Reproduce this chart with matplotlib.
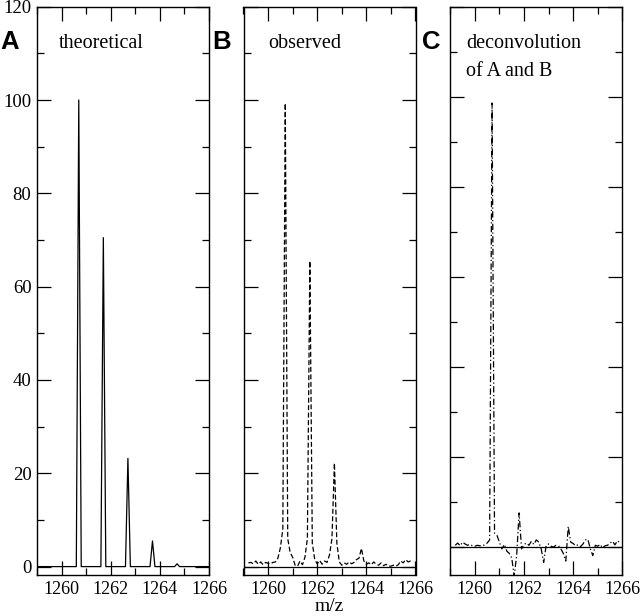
import numpy as np
import matplotlib.pyplot as plt
from matplotlib.ticker import MultipleLocator

# theoretical isotope pattern (stick-like)
theo_mz = [1259.0, 1260.6, 1260.7, 1260.8, 1261.6, 1261.7, 1261.8, 1262.6, 1262.7,
           1262.8, 1263.6, 1263.7, 1263.8, 1264.6, 1264.7, 1264.8, 1266.0]
theo_int = [0, 0, 100, 0, 0, 70.5, 0, 0, 23.2, 0, 0, 5.5, 0, 0, 0.6, 0, 0]

# observed spectrum, 0.1 m/z steps from 1259.2
obs_mz = np.round(np.arange(1259.2, 1265.95, 0.1), 1)
obs_int = [0.8, 0.9, 0.6, 1.2, 0.5, 1.0, 0.4, 0.9, 0.7, 0.6,
           0.9, 1.0, 1.8, 4.0, 8.0, 99.3, 6.0, 3.0, 2.0, 0.3,
           0.1, 1.2, 0.4, 2.0, 6.0, 65.5, 5.0, 1.5, 0.6, 1.3,
           0.5, 1.2, 0.9, 2.5, 6.0, 22.2, 5.0, 1.0, 0.3, 0.8,
           0.5, 1.0, 0.6, 0.9, 1.5, 1.8, 3.9, 1.2, 0.5, 0.8,
           0.4, 1.0, 0.5, 0.3, 0.8, 0.2, 0.5, 0.1, 0.1, 0.3,
           0.1, 0.4, 1.2, 0.8, 1.5, 1.0, 1.2, 1.0]

# deconvolution of A and B
dec_mz = obs_mz
dec_int = [0.3, 0.8, 0.2, 1.0, 0.6, 0.3, 0.5, 0.2, 0.1, 0.3,
           0.2, 0.2, 0.4, 0.8, 1.5, 98.6, 3.0, 2.5, 1.0, -0.5,
           0.5, -1.0, -1.5, -2.5, -6.5, -2.0, 7.5, -0.5, 0.5, 0.8,
           0.3, 1.2, 0.5, 1.5, 1.0, -0.5, -3.5, 0.2, 0.6, 0.1,
           -0.1, 0.3, 0.2, -0.5, -1.5, -3.2, 4.5, 1.0, 0.7, 0.2,
           0.4, 0.0, 0.6, 1.5, 1.6, -0.5, -2.0, 0.3, 0.1, 0.5,
           -0.3, 0.2, 0.3, 0.8, 1.2, 0.4, 1.3, 0.9]

W, H = 640, 616
fig = plt.figure(figsize=(W / 100, H / 100), dpi=100)
plt.rcParams['font.family'] = 'Liberation Serif'

top, bottom = 6.7, 575
lefts = [37, 243.5, 450.3]
width = 172
ylims = [(-1.8, 120), (-1.8, 120), (-6.3, 120)]

axes = []
for left, yl in zip(lefts, ylims):
    ax = fig.add_axes([left / W, 1 - bottom / H, width / W, (bottom - top) / H])
    ax.set_xlim(1259, 1266)
    ax.set_ylim(*yl)
    ax.xaxis.set_major_locator(MultipleLocator(2))
    ax.xaxis.set_minor_locator(MultipleLocator(1))
    ax.yaxis.set_major_locator(MultipleLocator(20))
    ax.yaxis.set_minor_locator(MultipleLocator(10))
    ax.tick_params(which='both', direction='in', top=True, right=True, width=0.9)
    ax.tick_params(which='major', length=10)
    ax.tick_params(which='minor', length=5)
    ax.tick_params(axis='x', pad=4, labelsize=13)
    ax.tick_params(axis='y', pad=4, labelsize=13.5)
    for s in ax.spines.values():
        s.set_linewidth(1.0)
    axes.append(ax)

axA, axB, axC = axes
axA.plot(theo_mz, theo_int, color='black', lw=0.9)

axB.axhline(0, color='black', lw=0.9)
axB.plot(obs_mz, obs_int, color='black', lw=0.9, linestyle=(0, (4, 2)))
axB.tick_params(axis='y', labelleft=False)
axB.set_xlabel('m/z', fontsize=14, labelpad=0)

axC.axhline(0, color='black', lw=0.9)
axC.plot(dec_mz, dec_int, color='black', lw=0.9, linestyle=(0, (5, 2, 1, 2)))
axC.tick_params(axis='y', labelleft=False)

# panel letters and captions
for x, letter in zip([0, 212, 422], ['A', 'B', 'C']):
    fig.text(x / W, 1 - 42 / H, letter, fontsize=18.5, fontweight='bold',
             family='Liberation Sans', va='center', ha='left')
fig.text(59 / W, 1 - 43 / H, 'theoretical', fontsize=14.5, va='center')
fig.text(268 / W, 1 - 43 / H, 'observed', fontsize=14.5, va='center')
fig.text(466 / W, 1 - 43 / H, 'deconvolution', fontsize=14.5, va='center')
fig.text(466 / W, 1 - 72 / H, 'of A and B', fontsize=14.5, va='center')

fig.savefig('out.png', dpi=100)
